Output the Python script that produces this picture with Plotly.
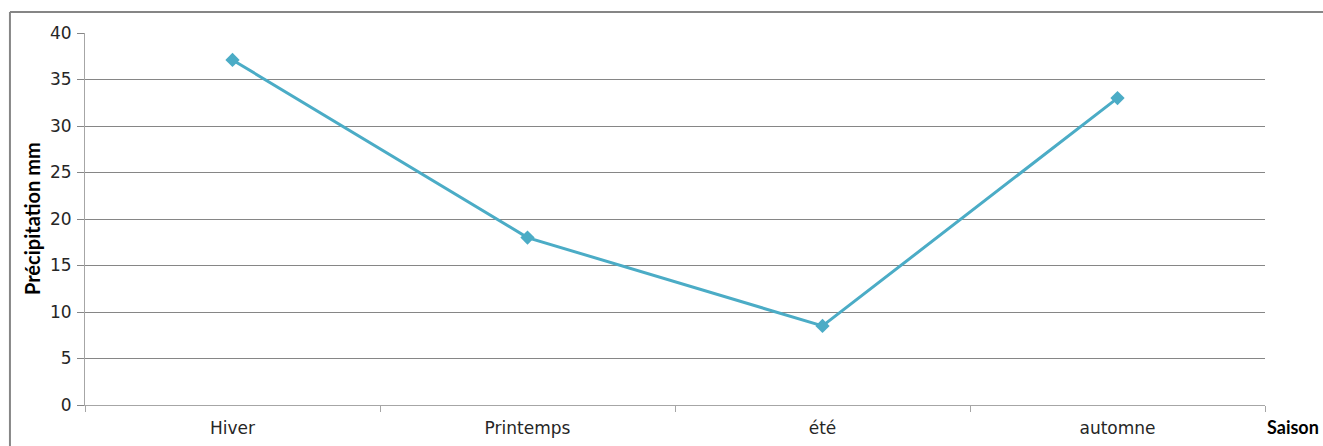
import plotly.graph_objects as go

saisons = ["Hiver", "Printemps", "été", "automne"]
precipitation = [37.1, 18.0, 8.5, 33.0]
y_ticks = [0, 5, 10, 15, 20, 25, 30, 35, 40]

grid_col = "#868686"
line_col = "#4BACC6"
tick_font = dict(family="DejaVu Sans, Verdana, sans-serif", size=17, color="#262626")

fig = go.Figure()
fig.add_trace(go.Scatter(
    x=saisons, y=precipitation, mode="lines+markers",
    line=dict(color=line_col, width=3),
    marker=dict(symbol="diamond", size=11, color=line_col),
    showlegend=False,
))

fig.update_layout(
    width=1323, height=446,
    margin=dict(l=85, r=58, t=33, b=41),
    paper_bgcolor="white", plot_bgcolor="white",
    xaxis=dict(
        type="category", tickson="boundaries", showgrid=False,
        ticks="outside", ticklen=6, tickcolor="#a6a6a6",
        showline=True, linecolor="#a6a6a6", linewidth=1,
        tickfont=tick_font, ticklabelstandoff=8, automargin=False,
        range=[-0.5, 3.5], zeroline=False,
    ),
    yaxis=dict(
        range=[0, 40], tickvals=y_ticks,
        showgrid=True, gridcolor=grid_col, gridwidth=1,
        ticks="outside", ticklen=7, tickcolor=grid_col,
        showline=True, linecolor="#a6a6a6", linewidth=1,
        zeroline=False, automargin=False,
        tickfont=tick_font, ticklabelstandoff=2,
    ),
    shapes=[
        dict(type="line", xref="paper", yref="paper",
             x0=-0.0636, x1=-0.0636, y0=1.0565, y1=-0.2,
             line=dict(color="#868686", width=2)),
        dict(type="line", xref="paper", yref="paper",
             x0=-0.0636, x1=1.1, y0=1.0565, y1=1.0565,
             line=dict(color="#868686", width=2)),
    ],
    annotations=[
        dict(text="<b>Précipitation mm</b>", xref="paper", yref="paper",
             x=-0.0449, y=0.5, xanchor="center", yanchor="middle",
             textangle=-90, showarrow=False,
             font=dict(family="Lato", size=20, color="black")),
        dict(text="<b>Saison</b>", xref="paper", yref="paper",
             x=1.0475, xanchor="right", y=-0.059, yanchor="middle",
             showarrow=False,
             font=dict(family="Lato", size=18, color="black")),
    ],
)

fig.write_html("out.html")
